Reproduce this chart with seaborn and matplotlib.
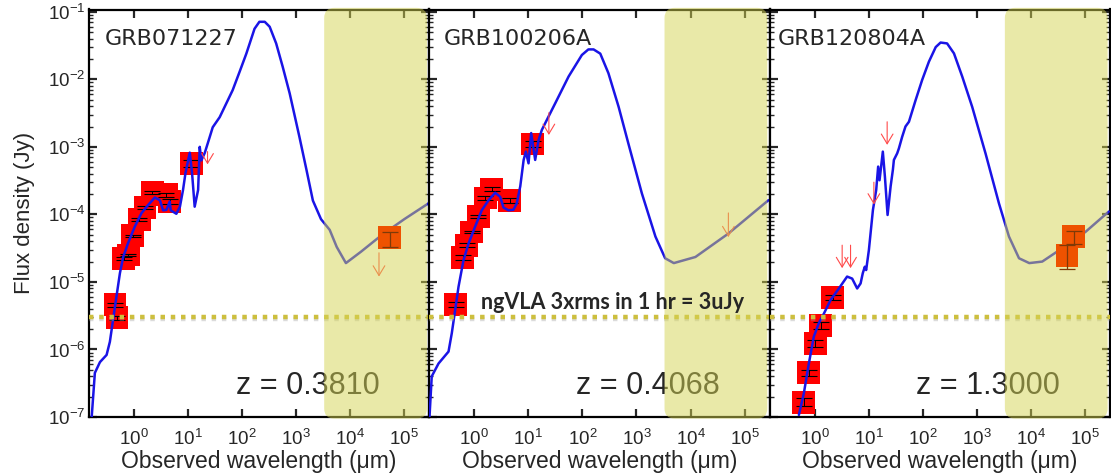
import numpy as np
import pandas as pd
import matplotlib
matplotlib.use("Agg")
import matplotlib.pyplot as plt
import seaborn as sns
from matplotlib.patches import FancyBboxPatch
from matplotlib import ticker
import matplotlib.patheffects as pe

# ---------------- data ----------------
names = ["GRB071227", "GRB100206A", "GRB120804A"]
redshift_labels = ["z = 0.3810", "z = 0.4068", "z = 1.3000"]
sensitivity_label = "ngVLA 3xrms in 1 hr = 3uJy"
sensitivity_jy = 3e-6
radio_band_start_um = 3300

# model SEDs (wavelength in micron, flux density in Jy)
model_wave_1 = [0.166, 0.19, 0.236, 0.313, 0.36, 0.447, 0.552, 0.635, 0.785, 1.04,
                1.39, 1.84, 2.44, 3.02, 3.47, 4.0, 4.6, 4.8, 6.1, 7.1,
                8.1, 9.0, 10.8, 11.9, 13.3, 15.4, 16.5, 17.7, 20.4, 23.4,
                28.7, 38.6, 67, 90, 120, 170, 209, 263, 324, 427,
                562, 759, 1148, 1549, 2040, 2880, 4170, 5620, 8320, 15800,
                38900, 100000, 288000]
model_flux_1 = [1.0e-7, 4.5e-7, 6.5e-7, 8.3e-7, 1.3e-6, 4.3e-6, 1.35e-5, 2.34e-5, 3.8e-5, 6.6e-5,
                1.05e-4, 1.38e-4, 1.78e-4, 1.62e-4, 1.15e-4, 1.17e-4, 1.55e-4, 1.15e-4, 1.02e-4, 1.3e-4,
                2.3e-4, 4.1e-4, 8.2e-4, 4.1e-4, 1.3e-4, 2.3e-4, 1.0e-3, 6.3e-4, 8.1e-4, 1.15e-3,
                1.95e-3, 2.75e-3, 6.9e-3, 1.29e-2, 2.4e-2, 5.6e-2, 7.1e-2, 7.1e-2, 6.0e-2, 3.4e-2,
                1.55e-2, 6.2e-3, 1.41e-3, 4.6e-4, 1.6e-4, 8.5e-5, 5.9e-5, 3.3e-5, 1.9e-5, 2.8e-5,
                5.0e-5, 8.5e-5, 1.48e-4]

model_wave_2 = [0.149, 0.164, 0.219, 0.335, 0.385, 0.513, 0.634, 0.785, 1.04, 1.38,
                1.84, 2.44, 3.02, 3.48, 4.3, 5.3, 6.1, 7.1, 8.2, 9.0,
                10.1, 11.3, 13.4, 15.5, 17.8, 22, 31.4, 55.6, 97.8, 129,
                161, 214, 303, 468, 708, 1259, 2240, 3390, 4900, 12300,
                50000, 275000]
model_flux_2 = [1.0e-7, 4.0e-7, 6.2e-7, 9.3e-7, 1.74e-6, 8.5e-6, 2.1e-5, 3.7e-5, 6.6e-5, 1.15e-4,
                1.62e-4, 2.09e-4, 1.82e-4, 1.26e-4, 1.15e-4, 1.17e-4, 1.45e-4, 2.6e-4, 6.4e-4, 8.5e-4,
                5.7e-4, 1.6e-3, 6.4e-4, 1.26e-3, 1.78e-3, 2.5e-3, 4.4e-3, 1.1e-2, 2.29e-2, 2.77e-2,
                2.77e-2, 2.4e-2, 1.23e-2, 3.9e-3, 1.12e-3, 2.04e-4, 4.7e-5, 2.24e-5, 1.9e-5, 2.34e-5,
                5.2e-5, 1.62e-4]

model_wave_3 = [0.513, 0.634, 0.785, 0.97, 1.2, 1.49, 1.98, 2.82, 4.0, 4.96,
                6.14, 7.1, 7.8, 8.5, 9.0, 10.1, 12.0, 13.8, 15.0, 15.9,
                18.3, 20.0, 22.4, 25.5, 28.1, 29.3, 33.7, 36.3, 41.7, 48,
                55.6, 73.8, 97.7, 130, 174, 214, 282, 378, 537, 822,
                1455, 2570, 3930, 6030, 9330, 16200, 38000, 102000, 275000]
model_flux_3 = [1.07e-7, 2.24e-7, 6.2e-7, 1.55e-6, 2.45e-6, 3.4e-6, 5.4e-6, 8.0e-6, 1.2e-5, 1.12e-5,
                8.0e-6, 9.5e-6, 1.35e-5, 1.68e-5, 1.5e-5, 2.95e-5, 1.16e-4, 2.3e-4, 5.1e-4, 3.2e-4,
                8.5e-4, 3.6e-4, 9.8e-5, 2.6e-4, 4.6e-4, 6.4e-4, 8.0e-4, 9.5e-4, 1.41e-3, 2.0e-3,
                2.35e-3, 4.9e-3, 9.8e-3, 1.82e-2, 3.0e-2, 3.5e-2, 3.4e-2, 2.42e-2, 1.1e-2, 3.9e-3,
                7.9e-4, 1.45e-4, 4.7e-5, 2.24e-5, 1.9e-5, 2.0e-5, 3.16e-5, 5.5e-5, 1.1e-4]

# optical / IR photometry (detections)
phot_wave_1 = [0.446, 0.486, 0.65, 0.785, 0.946, 1.25, 1.6, 2.18, 4.0, 4.6, 11.6]
phot_flux_1 = [4.6e-6, 2.95e-6, 2.2e-5, 2.5e-5, 4.8e-5, 8.3e-5, 1.27e-4, 2.1e-4, 1.95e-4, 1.55e-4, 5.7e-4]
phot_err_dex_1 = [0.03, 0.03, 0.02, 0.02, 0.02, 0.02, 0.02, 0.02, 0.03, 0.03, 0.05]

phot_wave_2 = [0.457, 0.616, 0.73, 0.90, 1.2, 1.6, 2.12, 4.56, 12.1]
phot_flux_2 = [4.6e-6, 2.3e-5, 3.5e-5, 5.5e-5, 9.3e-5, 1.75e-4, 2.35e-4, 1.6e-4, 1.1e-3]
phot_err_dex_2 = [0.04, 0.03, 0.03, 0.02, 0.02, 0.03, 0.03, 0.04, 0.05]

phot_wave_3 = [0.634, 0.785, 1.04, 1.29, 2.18]
phot_flux_3 = [1.66e-7, 4.5e-7, 1.23e-6, 2.24e-6, 5.9e-6]
phot_err_dex_3 = [0.06, 0.05, 0.05, 0.05, 0.04]

# radio detections (flux with lower/upper error bounds)
radio_wave_1 = [5.4e4]
radio_flux_1 = [4.5e-5]
radio_lo_1 = [3.24e-5]
radio_hi_1 = [5.5e-5]

radio_wave_2 = []
radio_flux_2 = []
radio_lo_2 = []
radio_hi_2 = []

radio_wave_3 = [6.2e4, 4.65e4]
radio_flux_3 = [4.7e-5, 2.45e-5]
radio_lo_3 = [3.63e-5, 1.55e-5]
radio_hi_3 = [5.75e-5, 3.55e-5]

# upper limits (arrow from limit value down to arrow tip)
ul_wave_1 = [23, 3.4e4]
ul_top_1 = [8.5e-4, 2.7e-5]
ul_tip_1 = [5.5e-4, 1.2e-5]

ul_wave_2 = [24, 5.0e4]
ul_top_2 = [3.2e-3, 1.05e-4]
ul_tip_2 = [1.5e-3, 4.6e-5]

ul_wave_3 = [3.24, 4.63, 12.5, 22]
ul_top_3 = [3.5e-5, 3.5e-5, 3.0e-4, 2.35e-3]
ul_tip_3 = [1.6e-5, 1.6e-5, 1.4e-4, 1.07e-3]

panels = [
    dict(mw=model_wave_1, mf=model_flux_1, pw=phot_wave_1, pf=phot_flux_1, pe=phot_err_dex_1,
         rw=radio_wave_1, rf=radio_flux_1, rlo=radio_lo_1, rhi=radio_hi_1,
         uw=ul_wave_1, ut=ul_top_1, ub=ul_tip_1),
    dict(mw=model_wave_2, mf=model_flux_2, pw=phot_wave_2, pf=phot_flux_2, pe=phot_err_dex_2,
         rw=radio_wave_2, rf=radio_flux_2, rlo=radio_lo_2, rhi=radio_hi_2,
         uw=ul_wave_2, ut=ul_top_2, ub=ul_tip_2),
    dict(mw=model_wave_3, mf=model_flux_3, pw=phot_wave_3, pf=phot_flux_3, pe=phot_err_dex_3,
         rw=radio_wave_3, rf=radio_flux_3, rlo=radio_lo_3, rhi=radio_hi_3,
         uw=ul_wave_3, ut=ul_top_3, ub=ul_tip_3),
]

# ---------------- style ----------------
sns.set_style("ticks")
plt.rcParams["font.family"] = ["Liberation Sans", "DejaVu Sans"]
plt.rcParams["mathtext.fontset"] = "custom"
plt.rcParams["mathtext.rm"] = "Liberation Sans"
plt.rcParams["axes.unicode_minus"] = False

XLIM = (0.148, 2.9e5)
YLIM = (1e-7, 0.108)

fig, axes = plt.subplots(1, 3, sharey=True, figsize=(11.11, 4.75), dpi=100)
fig.subplots_adjust(left=89 / 1111, right=1110 / 1111, top=1 - 9.5 / 475,
                    bottom=1 - 417 / 475, wspace=0)

line_blue = "#1a14e6"
band_color = "#d5d452"

for i, (ax, p) in enumerate(zip(axes, panels)):
    ax.set_xscale("log")
    ax.set_yscale("log")
    ax.set_xlim(*XLIM)
    ax.set_ylim(*YLIM)

    # model SED
    sns.lineplot(x=p["mw"], y=p["mf"], ax=ax, color=line_blue, lw=1.8,
                 sort=False, estimator=None, zorder=3)

    # photometric detections
    pdf = pd.DataFrame({"w": p["pw"], "f": p["pf"], "e": p["pe"]})
    sns.scatterplot(data=pdf, x="w", y="f", ax=ax, marker="s", s=270,
                    color="#ff0000", edgecolor="none", linewidth=0, zorder=2.8)
    lo = pdf["f"] - pdf["f"] * 10 ** (-pdf["e"])
    hi = pdf["f"] * 10 ** (pdf["e"]) - pdf["f"]
    ax.errorbar(pdf["w"], pdf["f"], yerr=[lo, hi], fmt="none", ecolor="black",
                elinewidth=0.7, capsize=6, capthick=0.8, zorder=2.9)

    # upper limits
    for w, t, b in zip(p["uw"], p["ut"], p["ub"]):
        ax.annotate("", xy=(w, b), xytext=(w, t),
                    arrowprops=dict(arrowstyle="->,head_length=0.5,head_width=0.3",
                                    color="#ff4a4a", lw=0.8, shrinkA=0, shrinkB=0,
                                    mutation_scale=14), zorder=3.2)

    # sensitivity line
    ax.axhline(sensitivity_jy, color="#cdbf3e", lw=3.2, ls=(0, (1, 1.3)),
               dash_capstyle="butt", zorder=4,
               path_effects=[pe.SimpleLineShadow(offset=(0, -1.2), shadow_color="#999999",
                                                 alpha=0.35), pe.Normal()])

    # labels
    ax.text(0.045 if i == 0 else (0.041 if i == 1 else 0.024), 0.928, names[i],
            transform=ax.transAxes, fontsize=16, family=["DejaVu Sans"],
            ha="left", va="center", zorder=6)
    ax.text(0.853, 0.075, redshift_labels[i], transform=ax.transAxes, fontsize=22,
            ha="right", va="center", zorder=3)

    # radio band highlight (rounded box drawn on top, semi-transparent)
    x0 = ax.transAxes.inverted().transform(ax.transData.transform((radio_band_start_um, 1e-3)))[0]
    box = FancyBboxPatch((x0, -0.004), 0.993 - x0, 1.008,
                         boxstyle="round,pad=0,rounding_size=0.03", mutation_aspect=0.82,
                         transform=ax.transAxes, facecolor=band_color, alpha=0.5,
                         edgecolor="none", zorder=5, clip_on=False)
    ax.add_patch(box)

    # radio detections drawn above the band
    if len(p["rw"]) > 0:
        rdf = pd.DataFrame({"w": p["rw"], "f": p["rf"], "lo": p["rlo"], "hi": p["rhi"]})
        sns.scatterplot(data=rdf, x="w", y="f", ax=ax, marker="s", s=270,
                        color="#ee5200", edgecolor="none", linewidth=0, zorder=6)
        ax.errorbar(rdf["w"], rdf["f"], yerr=[rdf["f"] - rdf["lo"], rdf["hi"] - rdf["f"]],
                    fmt="none", ecolor="#7d3a08", elinewidth=0.9, capsize=6, capthick=0.9,
                    zorder=6.5)

    # axes styling
    ax.xaxis.set_major_locator(ticker.LogLocator(base=10, numticks=20))
    ax.xaxis.set_minor_locator(ticker.NullLocator())
    ax.yaxis.set_major_locator(ticker.LogLocator(base=10, numticks=20))
    ax.yaxis.set_minor_locator(ticker.LogLocator(base=10, subs=np.arange(2, 10), numticks=20))
    ax.tick_params(which="both", direction="in", top=True, right=True)
    ax.tick_params(which="major", length=6, width=1.6, labelsize=13.5)
    ax.tick_params(which="minor", length=3, width=1.0)
    ax.tick_params(axis="x", pad=8.5)
    ax.tick_params(axis="y", pad=2.5)
    for s in ax.spines.values():
        s.set_linewidth(1.6)
        s.set_color("black")
    ax.set_xlabel("Observed wavelength (μm)", fontsize=16.5, labelpad=1)
    ax.set_ylabel("")

axes[0].set_ylabel("Flux density (Jy)", fontsize=16, labelpad=9)

axes[1].text(1.31, 4.9e-6, sensitivity_label, fontsize=15.5, fontweight="bold",
             family=["Lato", "DejaVu Sans"], ha="left", va="center", zorder=7)

fig.savefig("out.png", dpi=100)
